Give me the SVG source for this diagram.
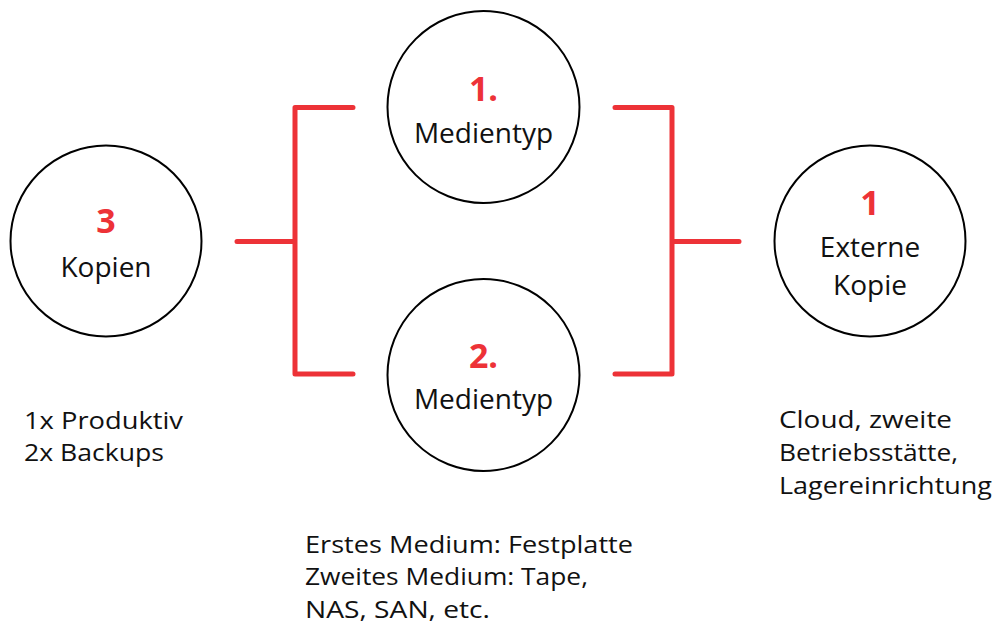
<svg xmlns="http://www.w3.org/2000/svg" width="1002" height="628" viewBox="0 0 1002 628">
<style>
.c{fill:#fff;stroke:#000;stroke-width:2}
.num{font-family:"Open Sans","Liberation Sans",sans-serif;font-weight:bold;font-size:34px;fill:#ED3237;text-anchor:middle}
.lbl{font-family:"Open Sans","Liberation Sans",sans-serif;font-size:28px;fill:#111;text-anchor:middle}
.t{font-family:"Open Sans","Liberation Sans",sans-serif;font-size:23.5px;fill:#111}
.ln{fill:none;stroke:#ED3237;stroke-width:5;stroke-linecap:round;stroke-linejoin:round}
</style>
<rect width="1002" height="628" fill="#fff"/>
<g id="connectors">
<path class="ln" d="M237,241.5 H295 M353,107.5 H295 V374 H353"/>
<path class="ln" d="M615,107.5 H672 V374 H615 M672,241.5 H739"/>
</g>
<g id="kopien">
<circle class="c" cx="106" cy="241" r="95.5"/>
<text class="num" x="106" y="233">3</text>
<text class="lbl" x="106" y="277">Kopien</text>
</g>
<g id="medientyp1">
<circle class="c" cx="483.5" cy="107" r="96"/>
<text class="num" x="483.5" y="101">1.</text>
<text class="lbl" x="483.5" y="143">Medientyp</text>
</g>
<g id="medientyp2">
<circle class="c" cx="483.5" cy="375" r="96"/>
<text class="num" x="483.5" y="368">2.</text>
<text class="lbl" x="483.5" y="409">Medientyp</text>
</g>
<g id="extern">
<circle class="c" cx="870" cy="241" r="95.5"/>
<text class="num" x="870" y="215">1</text>
<text class="lbl" x="870" y="257">Externe</text>
<text class="lbl" x="870" y="295">Kopie</text>
</g>
<g id="note-kopien">
<text class="t" x="24" y="429" textLength="159" lengthAdjust="spacingAndGlyphs">1x Produktiv</text>
<text class="t" x="24" y="461" textLength="140" lengthAdjust="spacingAndGlyphs">2x Backups</text>
</g>
<g id="note-medien">
<text class="t" x="305" y="553" textLength="328" lengthAdjust="spacingAndGlyphs">Erstes Medium: Festplatte</text>
<text class="t" x="305" y="585" textLength="283" lengthAdjust="spacingAndGlyphs">Zweites Medium: Tape,</text>
<text class="t" x="305" y="618" textLength="185" lengthAdjust="spacingAndGlyphs">NAS, SAN, etc.</text>
</g>
<g id="note-extern">
<text class="t" x="779" y="428" textLength="173" lengthAdjust="spacingAndGlyphs">Cloud, zweite</text>
<text class="t" x="779" y="461" textLength="179" lengthAdjust="spacingAndGlyphs">Betriebsstätte,</text>
<text class="t" x="779" y="494" textLength="213" lengthAdjust="spacingAndGlyphs">Lagereinrichtung</text>
</g>
</svg>
